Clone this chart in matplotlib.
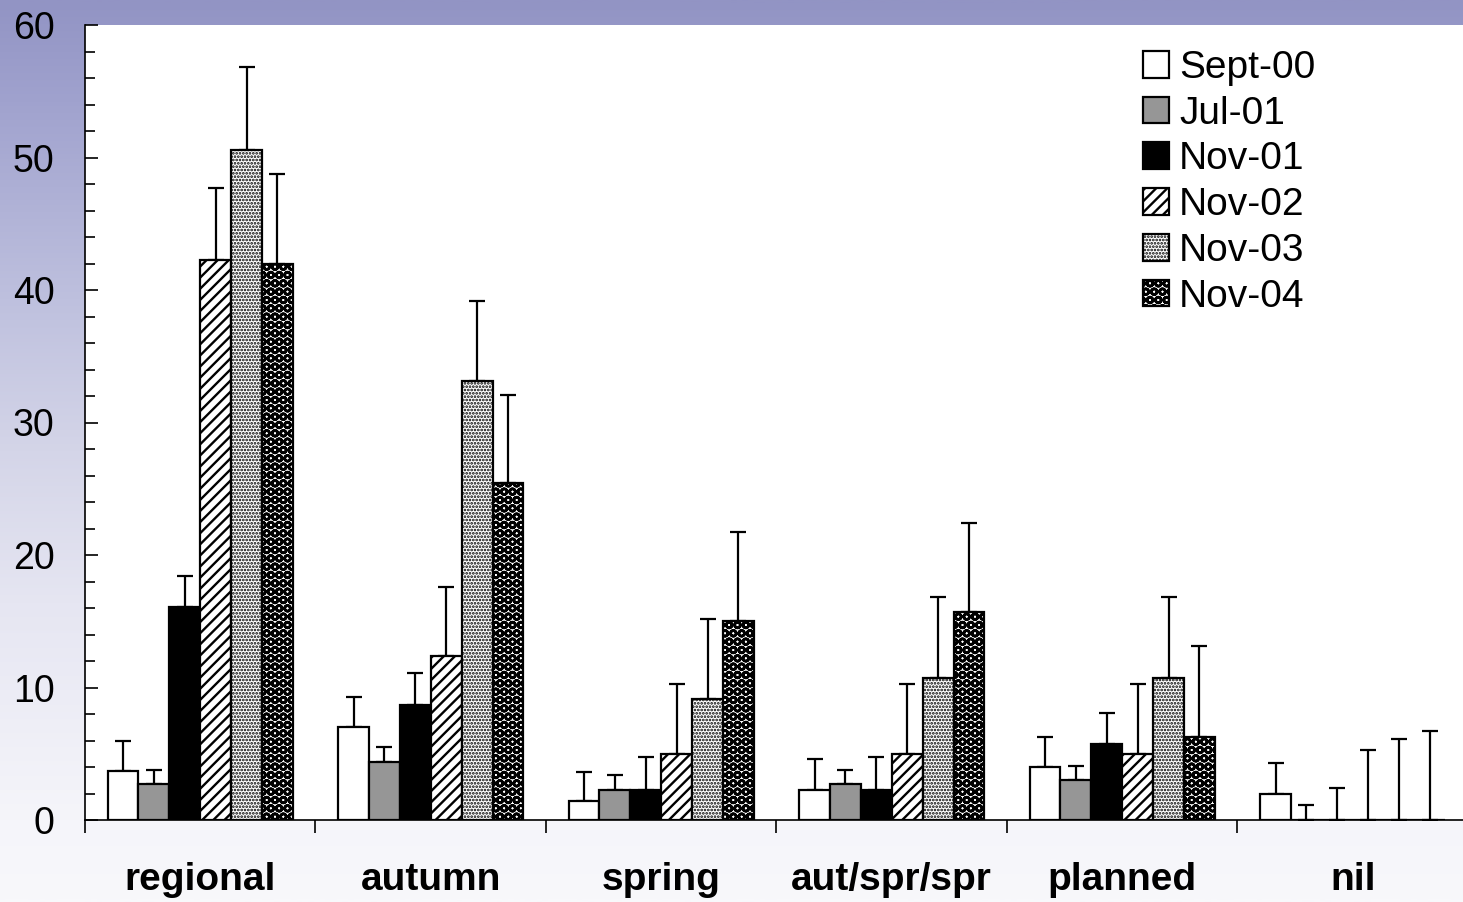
import numpy as np
import matplotlib
matplotlib.use("Agg")
import matplotlib.pyplot as plt
from matplotlib.ticker import MultipleLocator
from matplotlib.colors import LinearSegmentedColormap

plt.rcParams["font.family"] = ["Liberation Sans", "DejaVu Sans"]
plt.rcParams["hatch.linewidth"] = 1.6

# Data
categories = ["regional", "autumn", "spring", "aut/spr/spr", "planned", "nil"]
series = ["Sept-00", "Jul-01", "Nov-01", "Nov-02", "Nov-03", "Nov-04"]

sept_00 = [3.7, 7.0, 1.4, 2.3, 4.0, 2.0]
jul_01 = [2.7, 4.4, 2.3, 2.7, 3.0, 0.0]
nov_01 = [16.1, 8.7, 2.3, 2.3, 5.7, 0.0]
nov_02 = [42.3, 12.4, 5.0, 5.0, 5.0, 0.0]
nov_03 = [50.6, 33.1, 9.1, 10.7, 10.7, 0.0]
nov_04 = [42.0, 25.4, 15.0, 15.7, 6.3, 0.0]

sept_00_err = [2.3, 2.3, 2.2, 2.3, 2.3, 2.3]
jul_01_err = [1.05, 1.1, 1.1, 1.1, 1.1, 1.1]
nov_01_err = [2.3, 2.4, 2.45, 2.45, 2.4, 2.4]
nov_02_err = [5.4, 5.2, 5.3, 5.3, 5.3, 5.3]
nov_03_err = [6.2, 6.1, 6.1, 6.1, 6.1, 6.1]
nov_04_err = [6.75, 6.7, 6.7, 6.7, 6.8, 6.7]

values = [sept_00, jul_01, nov_01, nov_02, nov_03, nov_04]
errors = [sept_00_err, jul_01_err, nov_01_err, nov_02_err, nov_03_err, nov_04_err]

faces = ["white", "#969696", "black", "white", "white", "white"]
hatches = [None, None, None, "///", ".....", "OO"]
hatch_lw = [None, None, None, 1.7, 1.3, 1.9]

W, H = 1463, 902
fig = plt.figure(figsize=(W / 100, H / 100), dpi=100)

# Slide background: vertical wash from lavender to near white
bg = fig.add_axes([0, 0, 1, 1], zorder=-10)
stops = [(0.0, (146, 148, 196)), (0.11, (160, 162, 206)), (0.33, (190, 192, 222)),
         (0.5, (212, 213, 232)), (0.67, (230, 230, 242)), (0.91, (245, 245, 250)),
         (1.0, (248, 248, 251))]
cmap = LinearSegmentedColormap.from_list(
    "wash", [(p, tuple(c / 255 for c in rgb)) for p, rgb in stops])
grad = np.linspace(0, 1, 512).reshape(-1, 1)
bg.imshow(grad, aspect="auto", cmap=cmap, extent=[0, 1, 0, 1], origin="upper")
bg.set_axis_off()

x0, x1 = 85, 1468
y_top, y_bot = 25, 820
ax = fig.add_axes([x0 / W, 1 - y_bot / H, (x1 - x0) / W, (y_bot - y_top) / H])
ax.set_facecolor("white")

n = len(series)
bw = 0.134
centers = np.arange(len(categories)) + 0.5
for i in range(n):
    xs = centers + (i - (n - 1) / 2) * bw
    ax.errorbar(xs, values[i], yerr=[np.zeros(len(categories)), errors[i]],
                fmt="none", ecolor="black", elinewidth=1.6, capsize=5.5,
                capthick=1.6, zorder=1)
    bars = ax.bar(xs, values[i], width=bw, color=faces[i], edgecolor="black",
                  linewidth=1.6, hatch=hatches[i], label=series[i], zorder=2)
    if hatch_lw[i] is not None:
        for b in bars:
            if hasattr(b, "set_hatch_linewidth"):
                b.set_hatch_linewidth(hatch_lw[i])

ax.set_xlim(0, 6)
ax.set_ylim(0, 60)

for s in ("top", "right"):
    ax.spines[s].set_visible(False)
for s in ("left", "bottom"):
    ax.spines[s].set_linewidth(1.2)

ax.yaxis.set_major_locator(MultipleLocator(10))
ax.yaxis.set_minor_locator(MultipleLocator(2))
ax.tick_params(axis="y", which="major", direction="in", length=9, width=1.2,
               labelsize=27, pad=22)
ax.tick_params(axis="y", which="minor", direction="in", length=7.5, width=1.2)

ax.set_xticks(np.arange(0, 7))
ax.set_xticklabels([])
ax.tick_params(axis="x", which="major", direction="out", length=9, width=1.2)
ax.set_xticks(centers, minor=True)
ax.set_xticklabels(categories, minor=True, fontsize=28, fontweight="bold")
ax.tick_params(axis="x", which="minor", length=0, pad=30)

leg = ax.legend(loc="upper left", bbox_to_anchor=(1143 / W, 1 - 50 / H),
                bbox_transform=fig.transFigure, frameon=False, fontsize=28,
                handlelength=0.68, handleheight=0.68, handletextpad=0.25,
                labelspacing=0.25, borderpad=0, borderaxespad=0)
for h, lw in zip(leg.legend_handles, hatch_lw):
    if lw is not None and hasattr(h, "set_hatch_linewidth"):
        h.set_hatch_linewidth(lw)

fig.savefig("out.png", dpi=100)
